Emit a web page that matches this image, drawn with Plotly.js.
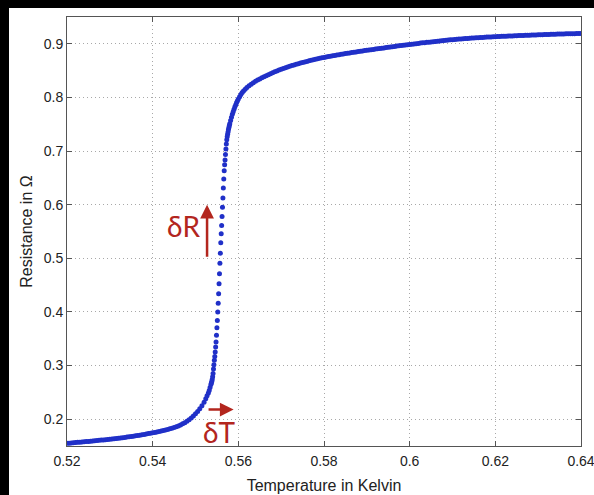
<!DOCTYPE html>
<html>
<head>
<meta charset="utf-8">
<script src="https://cdn.plot.ly/plotly-3.0.1.min.js"></script>
<style>
  html, body { margin: 0; padding: 0; background: #000; width: 594px; height: 495px; overflow: hidden; }
  #chart { position: absolute; left: 9px; top: 8px; width: 585px; height: 487px; background: #fff; }
</style>
</head>
<body>
<div id="chart"></div>
<script>
// Superconducting transition: resistance vs temperature
const temperature = [
  // slow rise below the transition
  0.5200, 0.5205, 0.5210, 0.5215, 0.5220, 0.5225, 0.5230, 0.5235, 0.5240, 0.5245,
  0.5250, 0.5255, 0.5260, 0.5265, 0.5270, 0.5275, 0.5280, 0.5285, 0.5290, 0.5295,
  0.5300, 0.5305, 0.5310, 0.5315, 0.5320, 0.5325, 0.5330, 0.5335, 0.5340, 0.5345,
  0.5350, 0.5355, 0.5360, 0.5365, 0.5370, 0.5375, 0.5380, 0.5385, 0.5390, 0.5395,
  0.5400, 0.5405, 0.5410, 0.5415, 0.5420, 0.5425, 0.5430, 0.5435, 0.5440, 0.5445,
  0.5450, 0.5455, 0.5460,
  // onset
  0.5465, 0.5470, 0.5475, 0.5480, 0.5485, 0.5490, 0.5495, 0.5500, 0.5505, 0.5510,
  0.5515, 0.5520, 0.5524, 0.5527, 0.5530, 0.5532, 0.5534, 0.5536, 0.5537, 0.5538,
  0.5539, 0.5540, 0.5541, 0.5542,
  // steep jump
  0.5543, 0.5544, 0.5545, 0.5546, 0.5547, 0.5548, 0.5549, 0.5550, 0.5551, 0.5552,
  0.5553, 0.5554, 0.5555, 0.5556, 0.5557, 0.5558, 0.5559, 0.5560, 0.5561, 0.5562,
  0.5563, 0.5564, 0.5565, 0.5566, 0.5567, 0.5568, 0.5569, 0.5570, 0.5571, 0.5572,
  // knee
  0.5573, 0.5574, 0.5575, 0.5576, 0.5577, 0.5578, 0.5579, 0.5580, 0.5582, 0.5584,
  0.5586, 0.5588, 0.5590, 0.5592, 0.5594, 0.5596, 0.5598, 0.5600, 0.5603, 0.5606,
  0.5609, 0.5612, 0.5616, 0.5620, 0.5625, 0.5630, 0.5635, 0.5640, 0.5645, 0.5650,
  0.5655, 0.5660, 0.5665,
  // normal state
  0.5670, 0.5675, 0.5680, 0.5685, 0.5690, 0.5695, 0.5700, 0.5705, 0.5710, 0.5715,
  0.5720, 0.5725, 0.5730, 0.5735, 0.5740, 0.5745, 0.5750, 0.5755, 0.5760, 0.5765,
  0.5770, 0.5775, 0.5780, 0.5785, 0.5790, 0.5795, 0.5800, 0.5805, 0.5810, 0.5815,
  0.5820, 0.5825, 0.5830, 0.5835, 0.5840, 0.5845, 0.5850, 0.5855, 0.5860, 0.5865,
  0.5870, 0.5875, 0.5880, 0.5885, 0.5890, 0.5895, 0.5900, 0.5905, 0.5910, 0.5915,
  0.5920, 0.5925, 0.5930, 0.5935, 0.5940, 0.5945, 0.5950, 0.5955, 0.5960, 0.5965,
  0.5970, 0.5975, 0.5980, 0.5985, 0.5990, 0.5995, 0.6000, 0.6005, 0.6010, 0.6015,
  0.6020, 0.6025, 0.6030, 0.6035, 0.6040, 0.6045, 0.6050, 0.6055, 0.6060, 0.6065,
  0.6070, 0.6075, 0.6080, 0.6085, 0.6090, 0.6095, 0.6100, 0.6105, 0.6110, 0.6115,
  0.6120, 0.6125, 0.6130, 0.6135, 0.6140, 0.6145, 0.6150, 0.6155, 0.6160, 0.6165,
  0.6170, 0.6175, 0.6180, 0.6185, 0.6190, 0.6195, 0.6200, 0.6205, 0.6210, 0.6215,
  0.6220, 0.6225, 0.6230, 0.6235, 0.6240, 0.6245, 0.6250, 0.6255, 0.6260, 0.6265,
  0.6270, 0.6275, 0.6280, 0.6285, 0.6290, 0.6295, 0.6300, 0.6305, 0.6310, 0.6315,
  0.6320, 0.6325, 0.6330, 0.6335, 0.6340, 0.6345, 0.6350, 0.6355, 0.6360, 0.6365,
  0.6370, 0.6375, 0.6380, 0.6385, 0.6390, 0.6395, 0.6400
];

const resistance = [
  // slow rise below the transition
  0.1550, 0.1553, 0.1557, 0.1560, 0.1564, 0.1568, 0.1571, 0.1575, 0.1578, 0.1582,
  0.1586, 0.1590, 0.1594, 0.1598, 0.1602, 0.1606, 0.1610, 0.1614, 0.1618, 0.1622,
  0.1627, 0.1631, 0.1636, 0.1640, 0.1645, 0.1650, 0.1655, 0.1660, 0.1666, 0.1671,
  0.1677, 0.1683, 0.1689, 0.1695, 0.1702, 0.1709, 0.1716, 0.1723, 0.1731, 0.1739,
  0.1747, 0.1754, 0.1762, 0.1770, 0.1778, 0.1787, 0.1797, 0.1808, 0.1820, 0.1832,
  0.1845, 0.1860, 0.1875,
  // onset
  0.1893, 0.1913, 0.1935, 0.1960, 0.1990, 0.2023, 0.2060, 0.2100, 0.2145, 0.2195,
  0.2252, 0.2318, 0.2380, 0.2435, 0.2490, 0.2536, 0.2590, 0.2645, 0.2675, 0.2705,
  0.2740, 0.2790, 0.2850, 0.2935,
  // steep jump
  0.3017, 0.3097, 0.3171, 0.3252, 0.3345, 0.3438, 0.3563, 0.3706, 0.3842, 0.3997,
  0.4164, 0.4338, 0.4524, 0.4710, 0.4909, 0.5095, 0.5288, 0.5456, 0.5611, 0.5778,
  0.5952, 0.6126, 0.6313, 0.6480, 0.6635, 0.6747, 0.6835, 0.6934, 0.7040, 0.7133,
  // knee
  0.7210, 0.7265, 0.7312, 0.7355, 0.7400, 0.7440, 0.7475, 0.7510, 0.7570, 0.7630,
  0.7685, 0.7735, 0.7780, 0.7825, 0.7865, 0.7905, 0.7940, 0.7972, 0.8015, 0.8055,
  0.8090, 0.8120, 0.8155, 0.8185, 0.8218, 0.8248, 0.8275, 0.8300, 0.8323, 0.8345,
  0.8366, 0.8386, 0.8405,
  // normal state
  0.8424, 0.8442, 0.8460, 0.8477, 0.8494, 0.8510, 0.8525, 0.8540, 0.8554, 0.8568,
  0.8581, 0.8594, 0.8606, 0.8618, 0.8629, 0.8640, 0.8651, 0.8662, 0.8672, 0.8682,
  0.8692, 0.8702, 0.8711, 0.8720, 0.8729, 0.8738, 0.8746, 0.8754, 0.8762, 0.8770,
  0.8777, 0.8784, 0.8791, 0.8798, 0.8805, 0.8812, 0.8818, 0.8825, 0.8831, 0.8837,
  0.8843, 0.8849, 0.8855, 0.8861, 0.8867, 0.8873, 0.8878, 0.8884, 0.8890, 0.8896,
  0.8902, 0.8908, 0.8913, 0.8919, 0.8924, 0.8930, 0.8935, 0.8941, 0.8946, 0.8952,
  0.8957, 0.8962, 0.8968, 0.8973, 0.8978, 0.8983, 0.8988, 0.8993, 0.8998, 0.9003,
  0.9008, 0.9013, 0.9018, 0.9022, 0.9027, 0.9031, 0.9036, 0.9040, 0.9045, 0.9049,
  0.9053, 0.9058, 0.9062, 0.9066, 0.9070, 0.9074, 0.9078, 0.9081, 0.9085, 0.9088,
  0.9092, 0.9095, 0.9098, 0.9101, 0.9104, 0.9107, 0.9110, 0.9113, 0.9115, 0.9118,
  0.9120, 0.9123, 0.9125, 0.9127, 0.9129, 0.9131, 0.9133, 0.9135, 0.9137, 0.9139,
  0.9141, 0.9143, 0.9145, 0.9147, 0.9148, 0.9150, 0.9152, 0.9154, 0.9155, 0.9157,
  0.9159, 0.9160, 0.9162, 0.9163, 0.9165, 0.9166, 0.9168, 0.9169, 0.9171, 0.9172,
  0.9174, 0.9175, 0.9177, 0.9178, 0.9180, 0.9181, 0.9183, 0.9184, 0.9185, 0.9186,
  0.9187, 0.9188, 0.9189, 0.9189, 0.9190, 0.9191, 0.9192
];

const xTickValues = [0.52, 0.54, 0.56, 0.58, 0.60, 0.62, 0.64];
const xTickLabels = ['0.52', '0.54', '0.56', '0.58', '0.6', '0.62', '0.64'];
const yTickValues = [0.2, 0.3, 0.4, 0.5, 0.6, 0.7, 0.8, 0.9];
const yTickLabels = ['0.2', '0.3', '0.4', '0.5', '0.6', '0.7', '0.8', '0.9'];

const axisColor = '#555';
const gridColor = '#a8a8a8';
const labelFont = { family: 'Liberation Sans, Arial, sans-serif', size: 14, color: '#222' };
const titleFont = { family: 'Liberation Sans, Arial, sans-serif', size: 16, color: '#222' };
const markColor = '#b3261e';
const markFont = { family: 'Lato, Liberation Sans, sans-serif', size: 28, color: markColor };

const trace = {
  x: temperature,
  y: resistance,
  type: 'scatter',
  mode: 'markers',
  marker: { size: 5, color: 'rgb(32,48,200)' },
  hoverinfo: 'skip'
};

const commonAxis = {
  showline: true,
  linecolor: axisColor,
  linewidth: 1,
  mirror: 'allticks',
  ticks: 'inside',
  ticklen: 5,
  tickwidth: 1,
  tickcolor: axisColor,
  showgrid: true,
  gridcolor: gridColor,
  gridwidth: 1,
  griddash: '1px,3px',
  zeroline: false,
  tickfont: labelFont,
  tickmode: 'array',
  ticklabeloverflow: 'allow'
};

const layout = {
  width: 585,
  height: 487,
  margin: { l: 58, r: 13, t: 9, b: 49 },
  paper_bgcolor: '#fff',
  plot_bgcolor: '#fff',
  showlegend: false,
  xaxis: Object.assign({}, commonAxis, {
    range: [0.52, 0.64],
    tickvals: xTickValues,
    ticktext: xTickLabels,
    ticklabelstandoff: 2,
    title: { text: 'Temperature in Kelvin', font: titleFont, standoff: 12 }
  }),
  yaxis: Object.assign({}, commonAxis, {
    range: [0.15, 0.95],
    tickvals: yTickValues,
    ticktext: yTickLabels,
    title: { text: 'Resistance in Ω', font: titleFont, standoff: 7 }
  }),
  annotations: [
    { x: 0.5527, y: 0.6, ax: 0.5527, ay: 0.5, xref: 'x', yref: 'y', axref: 'x', ayref: 'y',
      text: '', showarrow: true, arrowhead: 2, arrowsize: 1.1, arrowwidth: 2.5, arrowcolor: markColor },
    { x: 0.5589, y: 0.218, ax: 0.5527, ay: 0.218, xref: 'x', yref: 'y', axref: 'x', ayref: 'y',
      text: '', showarrow: true, arrowhead: 2, arrowsize: 1.1, arrowwidth: 2.5, arrowcolor: markColor },
    { x: 0.5471, y: 0.560, xref: 'x', yref: 'y', text: 'δR', showarrow: false,
      font: markFont, xanchor: 'center', yanchor: 'middle' },
    { x: 0.5555, y: 0.176, xref: 'x', yref: 'y', text: 'δT', showarrow: false,
      font: markFont, xanchor: 'center', yanchor: 'middle' }
  ]
};

Plotly.newPlot('chart', [trace], layout, { displayModeBar: false, staticPlot: true });
</script>
</body>
</html>
